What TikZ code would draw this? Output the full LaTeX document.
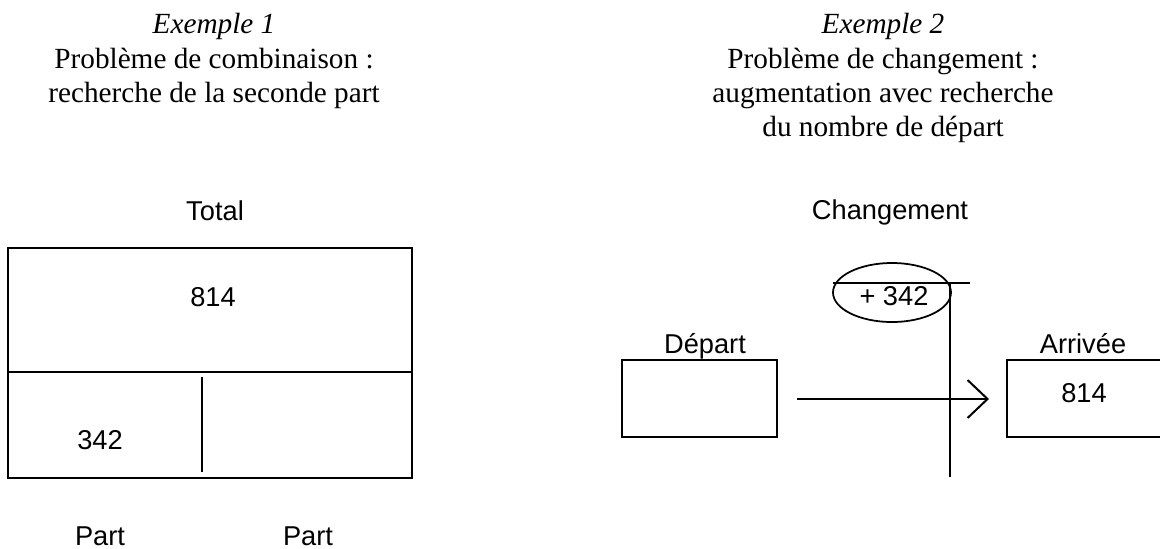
\documentclass[tikz,border=0pt]{standalone}
\usepackage{fontspec}
\setmainfont{Liberation Serif}
\newfontfamily\arialf{Liberation Sans}
\usetikzlibrary{arrows.meta,shapes.geometric}
\begin{document}
\begin{tikzpicture}[x=0.4pt,y=-0.4pt,
  title/.style={font=\fontsize{11.7}{13.8}\selectfont, anchor=base, inner sep=0pt},
  lab/.style={font=\arialf\fontsize{10.9}{13}\selectfont, anchor=base, inner sep=0pt},
  boxnode/.style={draw, line width=0.8pt, inner sep=0pt},
  thick line/.style={line width=1pt},
  thin line/.style={line width=0.7pt}]
\useasboundingbox (0,0) rectangle (1160,548);
\clip (0,0) rectangle (1160,548);

% ---- Titles ----
\node[title] (t1a) at (214,33) {\textit{Exemple 1}};
\node[title] (t1b) at (214,68) {Problème de combinaison :};
\node[title] (t1c) at (214,102) {recherche de la seconde part};

\node[title] (t2a) at (883,33) {\textit{Exemple 2}};
\node[title] (t2b) at (883,68) {Problème de changement :};
\node[title] (t2c) at (883,102) {augmentation avec recherche};
\node[title] (t2d) at (883,136) {du nombre de départ};

% ---- Example 1 ----
\node[lab] (total) at (215,220) {Total};
\node[boxnode, minimum width=161.6pt, minimum height=49.6pt] (topbox) at (210,310) {};
\node[boxnode, minimum width=161.6pt, minimum height=42.4pt] (botbox) at (210,425) {};
\node[lab] (n814a) at (213,306) {814};
\node[lab] (n342a) at (100,449) {342};
\coordinate (d1) at (202,377);
\coordinate (d2) at (202,472);
\draw[line width=0.8pt] (d1) -- (d2);
\node[lab] (part1) at (100,545) {Part};
\node[lab] (part2) at (308,545) {Part};

% ---- Example 2 ----
\node[lab] (chgt) at (890,219) {Changement};
\node[draw, thin line, ellipse, inner sep=0pt, minimum width=47.2pt, minimum height=23.6pt] (ell) at (892,292.5) {};
\node[lab] (plus) at (894,305) {+ 342};
\coordinate (h1) at (833,283);
\coordinate (h2) at (970,283);
\coordinate (v1) at (950,283);
\coordinate (v2) at (950,477);
\draw[thick line] (h1) -- (h2);
\draw[thick line] (v1) -- (v2);

\node[lab] (deplab) at (705,353) {Départ};
\node[boxnode, minimum width=62pt, minimum height=30.8pt] (dep) at (699.5,398.5) {};
\node[lab] (arrlab) at (1083,353) {Arrivée};
\node[boxnode, minimum width=63.2pt, minimum height=30.8pt] (arr) at (1086,398.5) {};
\node[lab] (n814b) at (1084,402) {814};

\coordinate (a1) at (797,399);
\coordinate (a2) at (989,399);
\draw[thin line, -{Straight Barb[length=8pt,width=15.2pt,line width=0.8pt]}] (a1) -- (a2);
\end{tikzpicture}
\end{document}
